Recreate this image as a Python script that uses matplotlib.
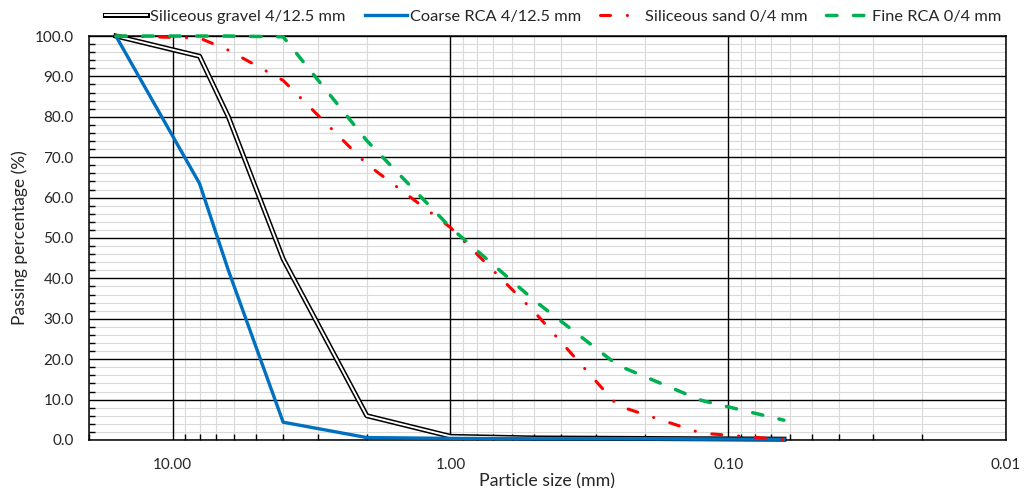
import matplotlib
matplotlib.use("Agg")
import matplotlib.pyplot as plt
from matplotlib.ticker import FixedLocator, LogLocator, MultipleLocator, FuncFormatter, NullFormatter
from matplotlib.legend_handler import HandlerTuple

plt.rcParams['font.family'] = ['Lato', 'DejaVu Sans']
plt.rcParams['font.size'] = 11
plt.rcParams['lines.scale_dashes'] = False

# Sieve openings (mm)
sieve = [16, 8, 6.3, 4, 2, 1, 0.5, 0.25, 0.125, 0.063]

# Passing percentages (%)
gravel = [100.0, 95.0, 80.0, 44.8, 6.0, 0.9, 0.5, 0.4, 0.3, 0.2]
coarse_rca = [100.0, 63.5, 42.0, 4.4, 0.6, 0.4, 0.3, 0.3, 0.2, 0.2]
sand = [100.0, 99.5, 96.5, 89.0, 68.3, 52.6, 31.8, 8.5, 1.7, 0.1]
fine_rca = [100.0, 100.0, 100.0, 99.8, 74.1, 52.6, 34.6, 18.5, 9.8, 4.9]

labels = ["Siliceous gravel 4/12.5 mm", "Coarse RCA 4/12.5 mm",
          "Siliceous sand 0/4 mm", "Fine RCA 0/4 mm"]

x_major = [10, 1, 0.1, 0.01]
y_major = list(range(0, 101, 10))

fig = plt.figure(figsize=(10.3, 4.88), dpi=100)
ax = fig.add_axes([0.0864, 0.0984, 0.8903, 0.8278])

# double line for the gravel: thick black with a white core
g_out, = ax.plot(sieve, gravel, color='black', lw=3.6, clip_on=False, zorder=3)
g_in, = ax.plot(sieve, gravel, color='white', lw=1.4, clip_on=False, zorder=3)
l_blue, = ax.plot(sieve, coarse_rca, color='#0070C0', lw=2.4, clip_on=False, zorder=4)
l_red, = ax.plot(sieve, sand, color='#FF0000', lw=2.2, clip_on=False, zorder=5,
                 dashes=(7.2, 12.1, 0.1, 12.1), dash_capstyle='round')
l_green, = ax.plot(sieve, fine_rca, color='#00B050', lw=2.5, clip_on=False, zorder=6,
                   dashes=(7.5, 11.9), dash_capstyle='round')

ax.set_xscale('log')
ax.set_xlim(20, 0.01)
ax.set_ylim(0, 100)

ax.xaxis.set_major_locator(FixedLocator(x_major))
ax.xaxis.set_minor_locator(LogLocator(base=10, subs=range(2, 10), numticks=20))
ax.xaxis.set_major_formatter(FuncFormatter(lambda v, p: f"{v:.2f}"))
ax.xaxis.set_minor_formatter(NullFormatter())
ax.yaxis.set_major_locator(MultipleLocator(10))
ax.yaxis.set_minor_locator(MultipleLocator(2))
ax.yaxis.set_major_formatter(FuncFormatter(lambda v, p: f"{v:.1f}"))

# light minor grid underneath, black major grid drawn on top of it
ax.grid(which='minor', color='#D9D9D9', lw=0.8)
ax.set_axisbelow(True)
for xv in x_major:
    ax.axvline(xv, color='black', lw=1.0, zorder=1)
for yv in y_major:
    ax.axhline(yv, color='black', lw=1.0, zorder=1)

ax.tick_params(which='major', length=0, labelsize=11, colors='#262626')
ax.tick_params(axis='x', which='major', pad=13)
ax.tick_params(axis='y', which='major', pad=11)
ax.tick_params(which='minor', direction='in', length=4, width=1, color='black',
               top=False, right=False)

for s in ax.spines.values():
    s.set_color('black')
    s.set_linewidth(1.1)
    s.set_zorder(2)

ax.set_xlabel("Particle size (mm)", fontsize=12.8, color='#262626', labelpad=1)
ax.set_ylabel("Passing percentage (%)", fontsize=12.5, color='#262626', labelpad=5)

fig.legend([(g_out, g_in), l_blue, l_red, l_green], labels,
           handler_map={tuple: HandlerTuple(ndivide=1)},
           loc='center', bbox_to_anchor=(0.537, 0.966), ncol=4, frameon=False,
           fontsize=11.8, handlelength=2.55, handletextpad=0.2, columnspacing=1.15,
           labelcolor='#262626')

fig.savefig("out.png", dpi=100)
